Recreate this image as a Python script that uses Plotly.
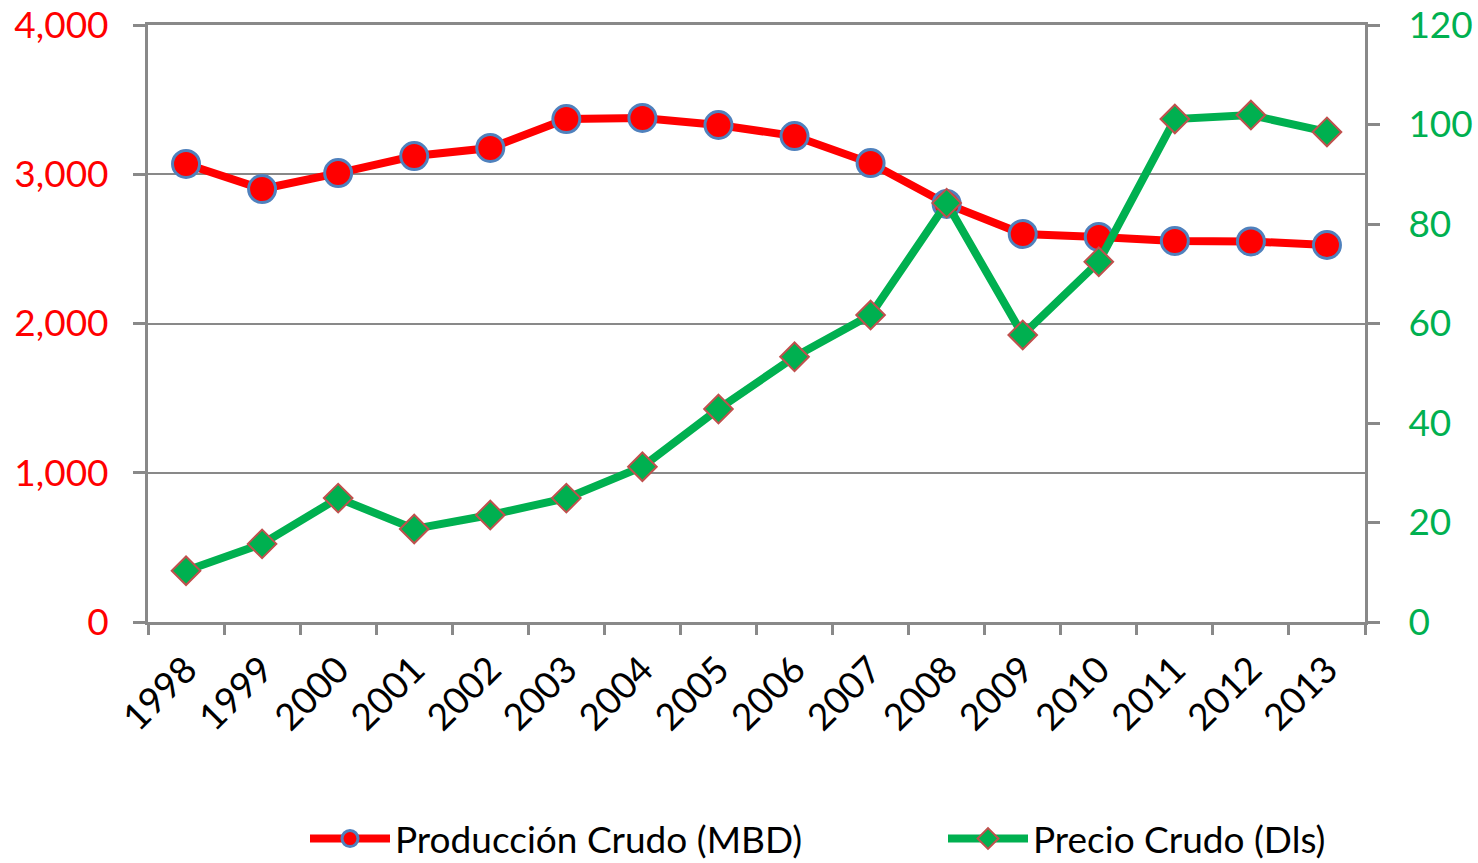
import plotly.graph_objects as go

years = ["1998", "1999", "2000", "2001", "2002", "2003", "2004", "2005",
         "2006", "2007", "2008", "2009", "2010", "2011", "2012", "2013"]
produccion = [3069, 2901, 3008, 3122, 3176, 3370, 3377, 3330,
              3256, 3075, 2801, 2600, 2580, 2553, 2550, 2526]
precio = [10.3, 15.7, 24.9, 18.7, 21.5, 24.9, 31.2, 42.8,
          53.3, 61.7, 84.2, 57.7, 72.4, 101.1, 101.9, 98.5]
left_ticks = [0, 1000, 2000, 3000, 4000]
right_ticks = [0, 20, 40, 60, 80, 100, 120]

FONT = "Lato"
AX = "#898989"
W, H = 1478, 863

fig = go.Figure()
fig.add_trace(go.Scatter(
    x=years, y=produccion, name="Producción Crudo (MBD)",
    mode="lines+markers",
    line=dict(color="#FF0000", width=8),
    marker=dict(symbol="circle", size=27, color="#FF0000",
                line=dict(color="#4F81BD", width=3)),
    yaxis="y", legend="legend"))
fig.add_trace(go.Scatter(
    x=years, y=precio, name="Precio Crudo (Dls)",
    mode="lines+markers",
    line=dict(color="#00B050", width=8),
    marker=dict(symbol="diamond", size=22, color="#00B050",
                line=dict(color="#C0504D", width=2)),
    yaxis="y2", legend="legend2"))

leg_common = dict(orientation="h", xref="container", yref="container",
                  xanchor="left", yanchor="middle", y=24 / H,
                  bgcolor="rgba(0,0,0,0)", itemwidth=80,
                  font=dict(family=FONT, size=37, color="black"))

fig.update_layout(
    width=W, height=H,
    margin=dict(l=148, r=113, t=25, b=241, autoexpand=False),
    paper_bgcolor="white", plot_bgcolor="white",
    font=dict(family=FONT, size=37, color="black"),
    showlegend=True,
    legend=dict(x=305 / W, **leg_common),
    legend2=dict(x=943 / W, **leg_common),
    xaxis=dict(type="category", range=[-0.5, len(years) - 0.5],
               showline=True, linecolor=AX, linewidth=3,
               mirror=True, ticks="outside", tickson="boundaries",
               ticklen=10, tickwidth=3, tickcolor=AX, tickangle=-45,
               showgrid=False, automargin=False, ticklabelstandoff=8,
               tickfont=dict(family=FONT, size=37, color="black")),
    yaxis=dict(range=[0, 4000], tickvals=left_ticks,
               ticktext=[f"{v:,}" for v in left_ticks],
               showline=True, linecolor=AX, linewidth=3,
               ticks="outside", ticklen=12, tickwidth=3, tickcolor=AX,
               showgrid=True, gridcolor=AX, gridwidth=2, zeroline=False,
               ticklabelstandoff=17, automargin=False,
               tickfont=dict(family=FONT, size=37, color="#FF0000")),
    yaxis2=dict(range=[0, 120], tickvals=right_ticks, overlaying="y",
                side="right", showline=True, linecolor=AX, linewidth=3,
                ticks="outside", ticklen=12, tickwidth=3, tickcolor=AX,
                showgrid=False, zeroline=False, ticklabelstandoff=21,
                automargin=False,
                tickfont=dict(family=FONT, size=37, color="#00B050")),
)

fig.write_html("out.html",
               config={"displayModeBar": False},
               post_script="document.body.style.margin='0';"
                           "document.body.style.padding='0';")
